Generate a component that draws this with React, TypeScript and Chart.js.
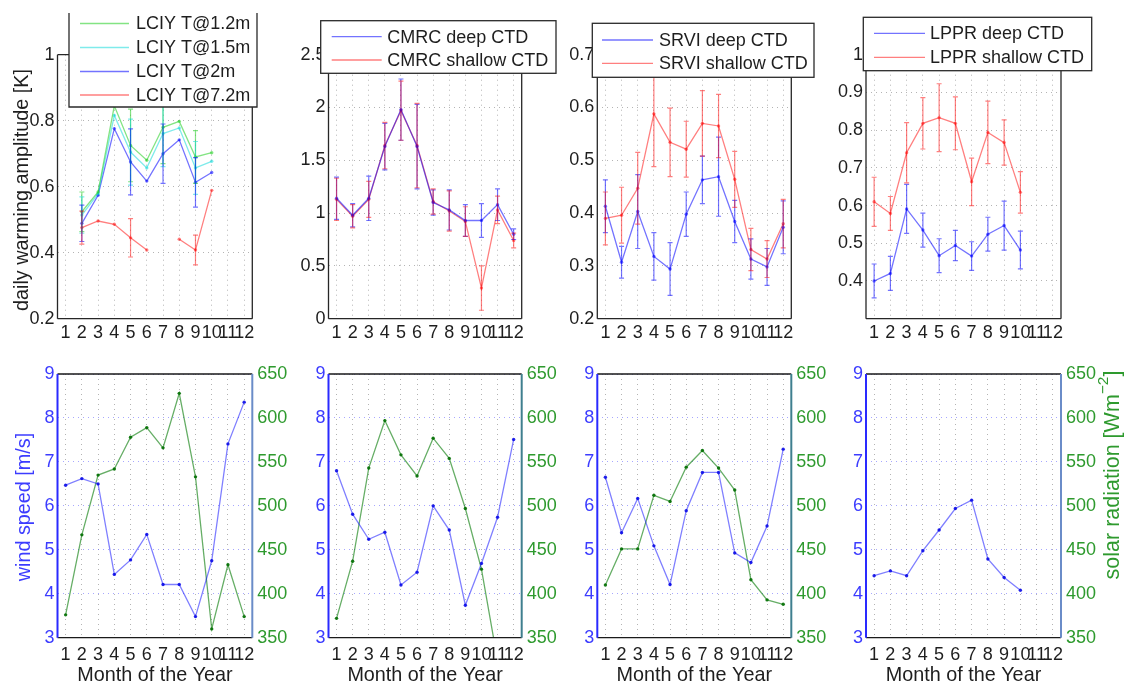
import React, { useEffect, useRef } from 'react';
import { Chart, registerables } from 'chart.js';
Chart.register(...registerables);

const FONT = "'Liberation Sans', Arial, Helvetica, sans-serif";

// ---------- data ----------
const months = [1, 2, 3, 4, 5, 6, 7, 8, 9, 10, 11, 12];

// LCIY daily warming amplitude [K]
const lciyT12 = [null, 0.524, 0.584, 0.845, 0.725, 0.68, 0.78, 0.798, 0.69, 0.703, null, null];
const lciyT12Err = [null, 0.06, null, null, 0.11, null, 0.11, null, 0.08, null, null, null];
const lciyT15 = [null, 0.514, 0.579, 0.816, 0.705, 0.657, 0.761, 0.778, 0.657, 0.677, null, null];
const lciyT15Err = [null, 0.055, null, null, 0.1, null, 0.1, null, 0.08, null, null, null];
const lciyT2 = [null, 0.489, 0.574, 0.776, 0.675, 0.617, 0.7, 0.742, 0.613, 0.643, null, null];
const lciyT2Err = [null, 0.055, null, null, 0.1, null, 0.09, null, 0.075, null, null, null];
const lciyT72 = [null, 0.476, 0.496, 0.486, 0.445, 0.408, null, 0.441, 0.408, 0.589, null, null];
const lciyT72Err = [null, 0.05, null, null, 0.058, null, null, null, 0.045, null, null, null];

// CMRC
const cmrcDeep = [1.14, 0.98, 1.14, 1.63, 1.98, 1.63, 1.1, 1.03, 0.93, 0.93, 1.08, 0.8];
const cmrcDeepErr = [0.2, 0.11, 0.21, 0.22, 0.29, 0.4, 0.12, 0.19, 0.15, 0.16, 0.15, 0.05];
const cmrcShallow = [1.13, 0.97, 1.13, 1.64, 1.97, 1.64, 1.11, 1.02, 0.92, 0.29, 1.03, 0.74];
const cmrcShallowErr = [0.2, 0.11, 0.17, 0.22, 0.28, 0.4, 0.12, 0.19, 0.14, 0.21, 0.13, 0.07];

// SRVI
const srviDeep = [0.413, 0.307, 0.403, 0.318, 0.294, 0.398, 0.463, 0.469, 0.384, 0.313, 0.298, 0.373];
const srviDeepErr = [0.05, 0.03, 0.07, 0.045, 0.05, 0.042, 0.045, 0.075, 0.04, 0.038, 0.035, 0.05];
const srviShallow = [0.39, 0.396, 0.447, 0.588, 0.534, 0.521, 0.57, 0.565, 0.464, 0.331, 0.313, 0.38];
const srviShallowErr = [0.05, 0.053, 0.068, 0.1, 0.065, 0.053, 0.062, 0.06, 0.053, 0.04, 0.035, 0.046];

// LPPR
const lpprDeep = [0.4, 0.42, 0.591, 0.535, 0.467, 0.494, 0.466, 0.524, 0.547, 0.482, null, null];
const lpprDeepErr = [0.045, 0.045, 0.065, 0.045, 0.045, 0.04, 0.038, 0.045, 0.065, 0.05, null, null];
const lpprShallow = [0.61, 0.579, 0.74, 0.818, 0.833, 0.818, 0.663, 0.794, 0.767, 0.635, null, null];
const lpprShallowErr = [0.065, 0.045, 0.08, 0.068, 0.09, 0.07, 0.063, 0.083, 0.06, 0.055, null, null];

// wind speed [m/s] and solar radiation [W m-2]
const lciyWind = [6.47, 6.62, 6.5, 4.44, 4.77, 5.35, 4.21, 4.21, 3.48, 4.75, 7.41, 8.36];
const lciySolar = [376, 467, 535, 542, 578, 589, 566, 628, 533, 360, 433, 374];
const cmrcWind = [6.8, 5.81, 5.24, 5.4, 4.2, 4.49, 6.0, 5.45, 3.74, 4.69, 5.74, 7.51];
const cmrcSolar = [372, 437, 543, 597, 558, 534, 577, 554, 497, 428, 324, 335];
const srviWind = [6.65, 5.39, 6.17, 5.09, 4.21, 5.89, 6.76, 6.76, 4.93, 4.71, 5.54, 7.29];
const srviSolar = [410, 451, 451, 512, 505, 544, 563, 543, 518, 416, 393, 388];
const lpprWind = [4.41, 4.52, 4.41, 4.98, 5.45, 5.94, 6.13, 4.79, 4.37, 4.08, null, null];

// ticks
const p1Ticks = [0.2, 0.4, 0.6, 0.8, 1];
const p2Ticks = [0, 0.5, 1, 1.5, 2, 2.5];
const p3Ticks = [0.2, 0.3, 0.4, 0.5, 0.6, 0.7];
const p4Ticks = [0.4, 0.5, 0.6, 0.7, 0.8, 0.9, 1];
const windTicks = [3, 4, 5, 6, 7, 8, 9];
const solarTicks = [350, 400, 450, 500, 550, 600, 650];

// ---------- styles ----------
const C_GREEN = 'rgba(30,205,30,0.55)';
const C_CYAN = 'rgba(0,215,215,0.5)';
const C_BLUE = 'rgba(0,0,255,0.55)';
const C_RED = 'rgba(255,0,0,0.5)';
const C_WIND = 'rgba(0,0,255,0.5)';
const C_WIND_PT = 'rgba(0,0,230,0.85)';
const C_SOLAR = 'rgba(0,120,0,0.6)';
const C_SOLAR_PT = 'rgba(0,110,0,0.9)';
const TXT = '#1e1e1e';
const BLUE_TXT = '#3c3cff';
const GREEN_TXT = '#2e9a2e';

const COLS = [
  [57.5, 252.3],
  [328.5, 521.7],
  [597.3, 791.3],
  [866, 1061],
];
const TOP_ROW = [54.7, 318.7];
const BOT_ROW = [374, 637.7];

type DS = {
  label: string;
  values: (number | null)[];
  errors?: (number | null)[];
  color: string;
  pointColor?: string;
  axis?: string;
};

type Label = { text: string; x: number; y: number; rotate?: boolean; color: string; size: number; sup?: string; tail?: string };

type Legend = { x0: number; x1: number; y0: number; y1: number; rows: number[]; s0: number; s1: number; tx: number; noTop?: boolean };

type Spec = {
  col: number;
  row: number[];
  yMin: number;
  yMax: number;
  yTicks: number[];
  yColor: string;
  y2?: { min: number; max: number; ticks: number[]; color: string };
  datasets: DS[];
  legend?: Legend;
  xPad: number;
  box: { tb: string; left: string; right: string; lw: number; sideW: number };
  hGrid: string;
  labels: Label[];
};

function fmt(v: number) {
  return String(Math.round(v * 1000) / 1000);
}

function drawLabel(ctx: CanvasRenderingContext2D, t: Label) {
  ctx.save();
  ctx.translate(t.x, t.y);
  if (t.rotate) ctx.rotate(-Math.PI / 2);
  ctx.fillStyle = t.color;
  ctx.textBaseline = 'middle';
  ctx.textAlign = 'left';
  const main = `${t.size}px ${FONT}`;
  const supSize = t.size * 0.72;
  const supF = `${supSize}px ${FONT}`;
  ctx.font = main;
  const w1 = ctx.measureText(t.text).width;
  let w2 = 0;
  let w3 = 0;
  if (t.sup) {
    ctx.font = supF;
    w2 = ctx.measureText(t.sup).width;
    ctx.font = main;
    w3 = ctx.measureText(t.tail || '').width;
  }
  let x = -(w1 + w2 + w3) / 2;
  ctx.fillText(t.text, x, 0);
  x += w1;
  if (t.sup) {
    ctx.font = supF;
    ctx.fillText(t.sup, x, -t.size * 0.42);
    x += w2;
    ctx.font = main;
    ctx.fillText(t.tail || '', x, 0);
  }
  ctx.restore();
}

function buildConfig(spec: Spec): any {
  const [L, R] = COLS[spec.col];
  const [T, B] = spec.row;
  const yW = 45;
  const y2W = spec.y2 ? 50 : 0;
  const xH = 30;

  const datasets = spec.datasets.map((d) => ({
    label: d.label,
    data: months.map((m, i) => ({ x: m, y: d.values[i] })),
    errors: d.errors,
    borderColor: d.color,
    backgroundColor: d.pointColor || d.color,
    pointBackgroundColor: d.pointColor || d.color,
    pointBorderWidth: 0,
    pointRadius: 1.7,
    borderWidth: 1.3,
    yAxisID: d.axis || 'y',
    spanGaps: false,
    tension: 0,
  }));

  const tickFont = { family: FONT, size: 18 };

  const scales: any = {
    x: {
      type: 'linear',
      min: 0.5,
      max: 12.5,
      afterBuildTicks: (ax: any) => {
        ax.ticks = months.map((v) => ({ value: v }));
      },
      afterFit: (ax: any) => {
        ax.height = xH;
      },
      ticks: {
        autoSkip: false,
        maxRotation: 0,
        minRotation: 0,
        padding: spec.xPad,
        color: TXT,
        font: tickFont,
        callback: (v: number) => String(v),
      },
      grid: { color: '#b4b4b4', lineWidth: 1, drawTicks: false },
      border: { display: false, dash: [1, 4] },
    },
    y: {
      type: 'linear',
      position: 'left',
      min: spec.yMin,
      max: spec.yMax,
      afterBuildTicks: (ax: any) => {
        ax.ticks = spec.yTicks.map((v) => ({ value: v }));
      },
      afterFit: (ax: any) => {
        ax.width = yW;
      },
      ticks: { padding: 3, color: spec.yColor, font: tickFont, callback: (v: number) => fmt(v) },
      grid: { color: spec.hGrid, lineWidth: 1, drawTicks: false },
      border: { display: false, dash: [1, 4] },
    },
  };
  if (spec.y2) {
    const y2 = spec.y2;
    scales.y2 = {
      type: 'linear',
      position: 'right',
      min: y2.min,
      max: y2.max,
      afterBuildTicks: (ax: any) => {
        ax.ticks = y2.ticks.map((v) => ({ value: v }));
      },
      afterFit: (ax: any) => {
        ax.width = y2W;
      },
      ticks: { padding: 5, color: y2.color, font: tickFont, callback: (v: number) => fmt(v) },
      grid: { display: false, drawTicks: false },
      border: { display: false },
    };
  }

  const plugin = {
    id: 'panelDecor',
    afterDatasetsDraw(chart: any) {
      const ctx: CanvasRenderingContext2D = chart.ctx;
      const a = chart.chartArea;
      const xs = chart.scales.x;
      // error bars
      ctx.save();
      ctx.beginPath();
      ctx.rect(a.left, a.top, a.right - a.left, a.bottom - a.top);
      ctx.clip();
      chart.data.datasets.forEach((ds: any) => {
        const errs = ds.errors;
        if (!errs) return;
        const ys = chart.scales[ds.yAxisID || 'y'];
        ctx.strokeStyle = ds.borderColor;
        ctx.lineWidth = 1.2;
        ds.data.forEach((p: any, i: number) => {
          const e = errs[i];
          if (p.y == null || e == null) return;
          const x = xs.getPixelForValue(p.x);
          const y1 = ys.getPixelForValue(p.y - e);
          const y2 = ys.getPixelForValue(p.y + e);
          ctx.beginPath();
          ctx.moveTo(x, y1);
          ctx.lineTo(x, y2);
          ctx.moveTo(x - 2.5, y1);
          ctx.lineTo(x + 2.5, y1);
          ctx.moveTo(x - 2.5, y2);
          ctx.lineTo(x + 2.5, y2);
          ctx.stroke();
        });
      });
      ctx.restore();
      // axes box
      ctx.save();
      ctx.lineWidth = spec.box.lw;
      ctx.strokeStyle = spec.box.tb;
      ctx.beginPath();
      ctx.moveTo(a.left, a.top);
      ctx.lineTo(a.right, a.top);
      ctx.moveTo(a.left, a.bottom);
      ctx.lineTo(a.right, a.bottom);
      ctx.stroke();
      ctx.lineWidth = spec.box.sideW;
      ctx.strokeStyle = spec.box.left;
      ctx.beginPath();
      ctx.moveTo(a.left, a.top);
      ctx.lineTo(a.left, a.bottom);
      ctx.stroke();
      ctx.strokeStyle = spec.box.right;
      ctx.beginPath();
      ctx.moveTo(a.right, a.top);
      ctx.lineTo(a.right, a.bottom);
      ctx.stroke();
      ctx.restore();
    },
    afterDraw(chart: any) {
      const ctx: CanvasRenderingContext2D = chart.ctx;
      const lg = spec.legend;
      if (lg) {
        ctx.save();
        ctx.fillStyle = '#ffffff';
        ctx.fillRect(lg.x0, lg.y0, lg.x1 - lg.x0, lg.y1 - lg.y0);
        ctx.strokeStyle = '#2a2a2a';
        ctx.lineWidth = 1.3;
        if (lg.noTop) {
          ctx.beginPath();
          ctx.moveTo(lg.x0, lg.y0);
          ctx.lineTo(lg.x0, lg.y1);
          ctx.lineTo(lg.x1, lg.y1);
          ctx.lineTo(lg.x1, lg.y0);
          ctx.stroke();
        } else {
          ctx.strokeRect(lg.x0, lg.y0, lg.x1 - lg.x0, lg.y1 - lg.y0);
        }
        ctx.font = `18px ${FONT}`;
        ctx.textBaseline = 'middle';
        ctx.textAlign = 'left';
        chart.data.datasets.forEach((ds: any, i: number) => {
          const y = lg.rows[i];
          if (y == null) return;
          ctx.strokeStyle = ds.borderColor;
          ctx.lineWidth = 1.3;
          ctx.beginPath();
          ctx.moveTo(lg.s0, y);
          ctx.lineTo(lg.s1, y);
          ctx.stroke();
          ctx.fillStyle = TXT;
          ctx.fillText(ds.label, lg.tx, y + 1);
        });
        ctx.restore();
      }
      spec.labels.forEach((t) => drawLabel(ctx, t));
    },
  };

  return {
    type: 'line',
    data: { datasets },
    options: {
      animation: false,
      responsive: false,
      devicePixelRatio: 1,
      parsing: true,
      layout: {
        autoPadding: false,
        padding: { left: L - yW, right: 1125 - R - y2W, top: T, bottom: 685 - B - xH },
      },
      plugins: { legend: { display: false }, tooltip: { enabled: false }, title: { display: false } },
      events: [],
      scales,
    },
    plugins: [plugin],
  };
}

const GRAY_GRID = '#b4b4b4';
const BLUE_GRID = 'rgba(80,80,255,0.5)';
const topBox = { tb: '#262626', left: '#262626', right: '#262626', lw: 1.3, sideW: 1.3 };
const xTitle = (col: number): Label => ({
  text: 'Month of the Year',
  x: (COLS[col][0] + COLS[col][1]) / 2,
  y: 676,
  color: TXT,
  size: 19.8,
});
const solarAxis = { min: 350, max: 650, ticks: solarTicks, color: GREEN_TXT };

const SPECS: Spec[] = [
  {
    col: 0, row: TOP_ROW, yMin: 0.2, yMax: 1, yTicks: p1Ticks, yColor: TXT, xPad: 4, box: topBox, hGrid: GRAY_GRID,
    datasets: [
      { label: 'LCIY T@1.2m', values: lciyT12, errors: lciyT12Err, color: C_GREEN },
      { label: 'LCIY T@1.5m', values: lciyT15, errors: lciyT15Err, color: C_CYAN },
      { label: 'LCIY T@2m', values: lciyT2, errors: lciyT2Err, color: C_BLUE },
      { label: 'LCIY T@7.2m', values: lciyT72, errors: lciyT72Err, color: C_RED },
    ],
    legend: { x0: 69, x1: 257, y0: 13, y1: 107, rows: [23.5, 47.5, 71.5, 95], s0: 80, s1: 129, tx: 136, noTop: true },
    labels: [{ text: 'daily warming amplitude [K]', x: 23, y: 190, rotate: true, color: TXT, size: 19.8 }],
  },
  {
    col: 1, row: TOP_ROW, yMin: 0, yMax: 2.5, yTicks: p2Ticks, yColor: TXT, xPad: 4, box: topBox, hGrid: GRAY_GRID,
    datasets: [
      { label: 'CMRC deep CTD', values: cmrcDeep, errors: cmrcDeepErr, color: C_BLUE },
      { label: 'CMRC shallow CTD', values: cmrcShallow, errors: cmrcShallowErr, color: C_RED },
    ],
    legend: { x0: 320.7, x1: 556, y0: 20.7, y1: 73.3, rows: [36.7, 60], s0: 331.7, s1: 381.7, tx: 387.3 },
    labels: [],
  },
  {
    col: 2, row: TOP_ROW, yMin: 0.2, yMax: 0.7, yTicks: p3Ticks, yColor: TXT, xPad: 4, box: topBox, hGrid: GRAY_GRID,
    datasets: [
      { label: 'SRVI deep CTD', values: srviDeep, errors: srviDeepErr, color: C_BLUE },
      { label: 'SRVI shallow CTD', values: srviShallow, errors: srviShallowErr, color: C_RED },
    ],
    legend: { x0: 592.3, x1: 814, y0: 23.3, y1: 77.3, rows: [40, 63.3], s0: 602, s1: 653, tx: 659 },
    labels: [],
  },
  {
    col: 3, row: TOP_ROW, yMin: 0.3, yMax: 1, yTicks: p4Ticks, yColor: TXT, xPad: 4, box: topBox, hGrid: GRAY_GRID,
    datasets: [
      { label: 'LPPR deep CTD', values: lpprDeep, errors: lpprDeepErr, color: C_BLUE },
      { label: 'LPPR shallow CTD', values: lpprShallow, errors: lpprShallowErr, color: C_RED },
    ],
    legend: { x0: 863.3, x1: 1091.7, y0: 17.3, y1: 70.7, rows: [33.3, 57.3], s0: 874, s1: 925, tx: 930 },
    labels: [],
  },
  {
    col: 0, row: BOT_ROW, yMin: 3, yMax: 9, yTicks: windTicks, yColor: BLUE_TXT, y2: solarAxis, xPad: 6.5,
    box: { tb: '#1a1a1a', left: '#2a2aff', right: '#6a8cc8', lw: 1.3, sideW: 2 }, hGrid: BLUE_GRID,
    datasets: [
      { label: 'wind', values: lciyWind, color: C_WIND, pointColor: C_WIND_PT },
      { label: 'solar', values: lciySolar, color: C_SOLAR, pointColor: C_SOLAR_PT, axis: 'y2' },
    ],
    labels: [xTitle(0), { text: 'wind speed [m/s]', x: 25, y: 507, rotate: true, color: BLUE_TXT, size: 19.8 }],
  },
  {
    col: 1, row: BOT_ROW, yMin: 3, yMax: 9, yTicks: windTicks, yColor: BLUE_TXT, y2: solarAxis, xPad: 6.5,
    box: { tb: '#1a1a1a', left: '#2a2aff', right: '#3f7f8f', lw: 1.3, sideW: 2 }, hGrid: BLUE_GRID,
    datasets: [
      { label: 'wind', values: cmrcWind, color: C_WIND, pointColor: C_WIND_PT },
      { label: 'solar', values: cmrcSolar, color: C_SOLAR, pointColor: C_SOLAR_PT, axis: 'y2' },
    ],
    labels: [xTitle(1)],
  },
  {
    col: 2, row: BOT_ROW, yMin: 3, yMax: 9, yTicks: windTicks, yColor: BLUE_TXT, y2: solarAxis, xPad: 6.5,
    box: { tb: '#1a1a1a', left: '#2a2aff', right: '#3f7f8f', lw: 1.3, sideW: 2 }, hGrid: BLUE_GRID,
    datasets: [
      { label: 'wind', values: srviWind, color: C_WIND, pointColor: C_WIND_PT },
      { label: 'solar', values: srviSolar, color: C_SOLAR, pointColor: C_SOLAR_PT, axis: 'y2' },
    ],
    labels: [xTitle(2)],
  },
  {
    col: 3, row: BOT_ROW, yMin: 3, yMax: 9, yTicks: windTicks, yColor: BLUE_TXT, y2: solarAxis, xPad: 6.5,
    box: { tb: '#1a1a1a', left: '#2a2aff', right: '#6a8cc8', lw: 1.3, sideW: 2 }, hGrid: BLUE_GRID,
    datasets: [{ label: 'wind', values: lpprWind, color: C_WIND, pointColor: C_WIND_PT }],
    labels: [
      xTitle(3),
      { text: 'solar radiation [Wm', sup: '\u22122', tail: ']', x: 1113, y: 475, rotate: true, color: GREEN_TXT, size: 21.5 },
    ],
  },
];

function Panel({ spec }: { spec: Spec }) {
  const ref = useRef<HTMLCanvasElement | null>(null);
  useEffect(() => {
    if (!ref.current) return;
    const chart = new Chart(ref.current, buildConfig(spec));
    return () => chart.destroy();
  }, [spec]);
  return (
    <canvas
      ref={ref}
      width={1125}
      height={685}
      style={{ position: 'absolute', left: 0, top: 0, width: 1125, height: 685 }}
    />
  );
}

export default function App() {
  return (
    <div
      style={{
        position: 'absolute',
        left: 0,
        top: 0,
        width: 1125,
        height: 685,
        background: '#ffffff',
        overflow: 'hidden',
      }}
    >
      {SPECS.map((s, i) => (
        <Panel key={i} spec={s} />
      ))}
    </div>
  );
}
